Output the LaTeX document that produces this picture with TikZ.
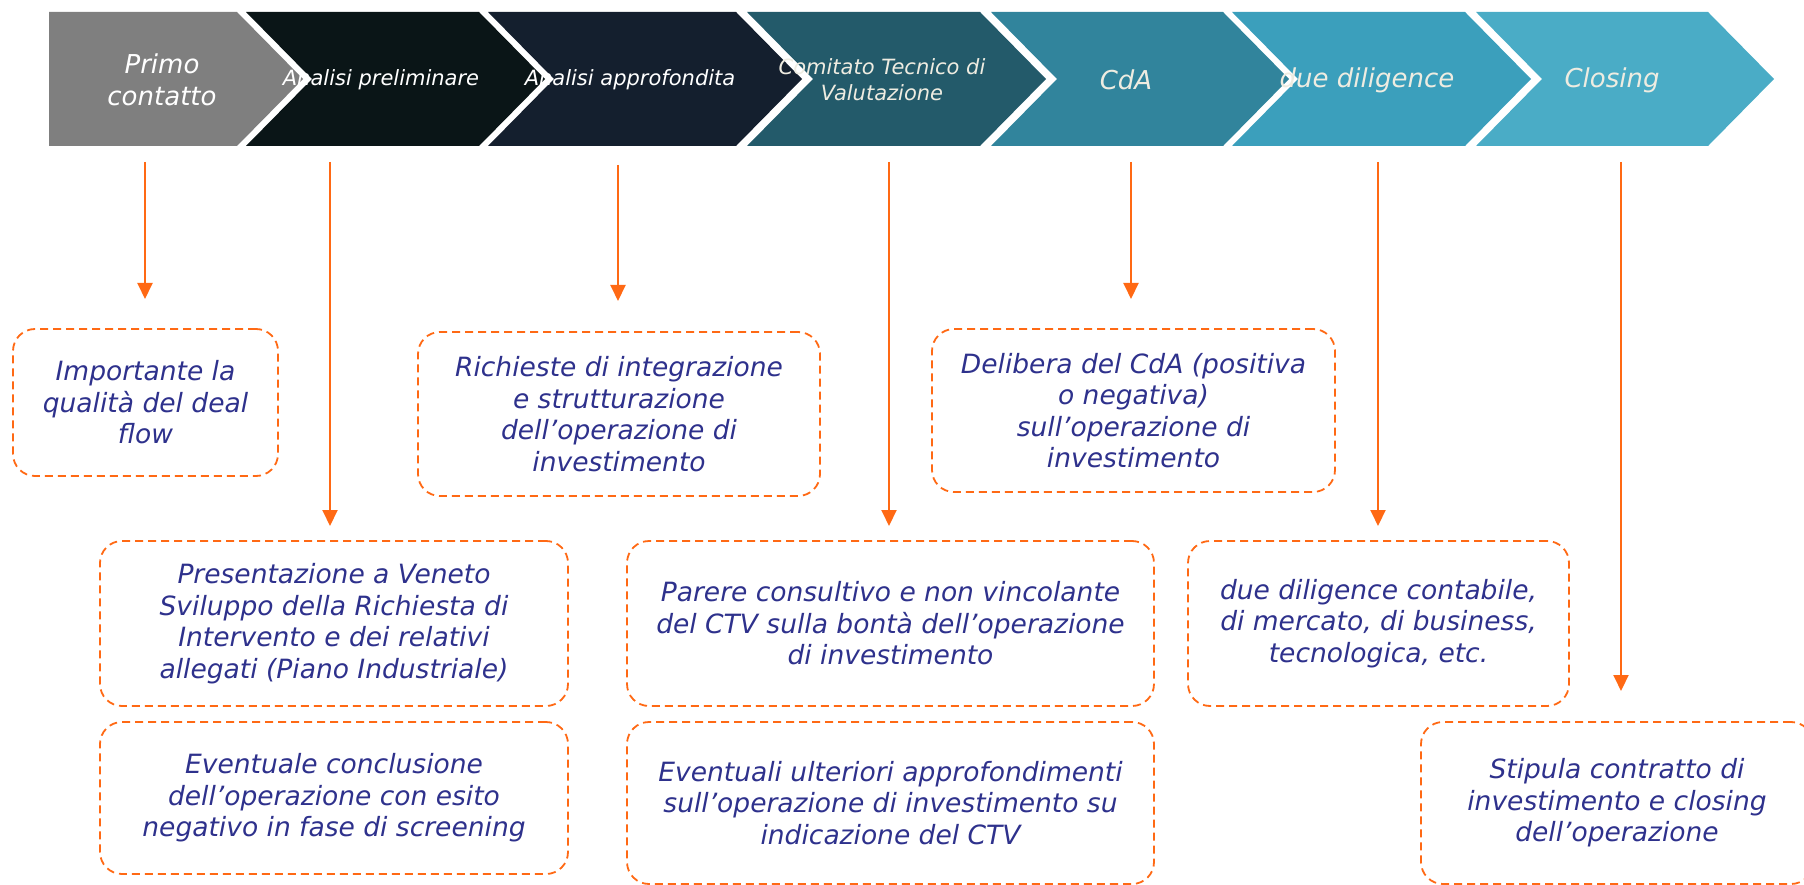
\documentclass[tikz,border=0pt]{standalone}
\usepackage{fontspec}
\setmainfont{DejaVu Sans}
\usetikzlibrary{arrows.meta}
\definecolor{cA}{HTML}{7F7F7F}
\definecolor{cB}{HTML}{0A1517}
\definecolor{cC}{HTML}{141F2E}
\definecolor{cD}{HTML}{235A6A}
\definecolor{cE}{HTML}{31849C}
\definecolor{cF}{HTML}{3B9FBC}
\definecolor{cG}{HTML}{4AACC6}
\definecolor{cream}{HTML}{EEECE1}
\definecolor{orng}{RGB}{255,105,20}
\definecolor{txtc}{RGB}{46,49,140}
\newcommand{\mychev}[3]{\fill[#3] (#1,12) -- (#2,12) -- ({#2+66},79) -- (#2,146) -- (#1,146) -- ({#1+66},79) -- cycle;}
\begin{document}
\begin{tikzpicture}[x=1pt,y=-1pt,
  chevbig/.style={font=\fontsize{26}{32}\selectfont\itshape, align=center, inner sep=0pt},
  chevsmall/.style={font=\fontsize{21}{26}\selectfont\itshape, align=center, inner sep=0pt},
  box/.style={draw=orng, dash pattern=on 8pt off 5pt, line width=1.8pt, rounded corners=22pt,
    align=center, text=txtc, font=\fontsize{26.5}{31.5}\selectfont\itshape, inner sep=0pt},
  arr/.style={draw=orng, line width=2pt, -{Triangle[width=15pt,length=16pt]}}]
\useasboundingbox (0,0) rectangle (1804,885);
% chevrons
\fill[cA] (49,12) -- (237,12) -- (303,79) -- (237,146) -- (49,146) -- cycle;
\mychev{246}{479}{cB}
\mychev{488}{736}{cC}
\mychev{747}{980}{cD}
\mychev{991}{1223}{cE}
\mychev{1232}{1465}{cF}
\mychev{1476}{1708}{cG}
% chevron labels
\node[chevbig, text=white] (t1) at (162,80) {Primo\\contatto};
\node[chevsmall, text=white] (t2) at (381,80) {Analisi preliminare};
\node[chevsmall, text=white] (t3) at (630,80) {Analisi approfondita};
\node[chevsmall, text=cream] (t4) at (882,80) {Comitato Tecnico di\\Valutazione};
\node[chevbig, text=cream] (t5) at (1126,80) {CdA};
\node[chevbig, text=cream] (t6) at (1367,80) {due diligence};
\node[chevbig, text=cream] (t7) at (1612,80) {Closing};
% boxes
\node[box, minimum width=265pt, minimum height=147pt] (b1) at (145.5,402.5) {Importante la\\qualità del deal\\flow};
\node[box, minimum width=402pt, minimum height=164pt] (b2) at (619,414) {Richieste di integrazione\\e strutturazione\\dell’operazione di\\investimento};
\node[box, minimum width=403pt, minimum height=163pt] (b3) at (1133.5,410.5) {Delibera del CdA (positiva\\o negativa)\\sull’operazione di\\investimento};
\node[box, minimum width=468pt, minimum height=165pt] (b4) at (334,623.5) {Presentazione a Veneto\\Sviluppo della Richiesta di\\Intervento e dei relativi\\allegati (Piano Industriale)};
\node[box, minimum width=468pt, minimum height=152pt] (b5) at (334,798) {Eventuale conclusione\\dell’operazione con esito\\negativo in fase di screening};
\node[box, minimum width=527pt, minimum height=165pt] (b6) at (890.5,623.5) {Parere consultivo e non vincolante\\del CTV sulla bontà dell’operazione\\di investimento};
\node[box, minimum width=527pt, minimum height=162pt] (b7) at (890.5,803) {Eventuali ulteriori approfondimenti\\sull’operazione di investimento su\\indicazione del CTV};
\node[box, minimum width=381pt, minimum height=165pt] (b8) at (1378.5,623.5) {due diligence contabile,\\di mercato, di business,\\tecnologica, etc.};
\node[box, minimum width=392pt, minimum height=162pt] (b9) at (1617,803) {Stipula contratto di\\investimento e closing\\dell’operazione};
% arrows
\coordinate (s1) at (145,162);  \coordinate (e1) at (145,299);
\coordinate (s2) at (330,162);  \coordinate (e2) at (330,526);
\coordinate (s3) at (618,165);  \coordinate (e3) at (618,301);
\coordinate (s4) at (889,162);  \coordinate (e4) at (889,526);
\coordinate (s5) at (1131,162); \coordinate (e5) at (1131,299);
\coordinate (s6) at (1378,162); \coordinate (e6) at (1378,526);
\coordinate (s7) at (1621,162); \coordinate (e7) at (1621,691);
\foreach \i in {1,...,7} {\draw[arr] (s\i) -- (e\i);}
\end{tikzpicture}
\end{document}
